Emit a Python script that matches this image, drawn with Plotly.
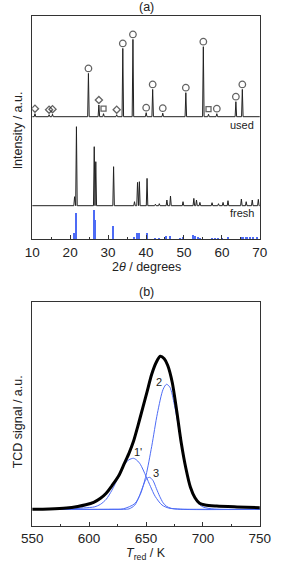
import plotly.graph_objects as go

# ---------------- Panel (a): XRD ----------------
used_pos = [10.73, 14.45, 15.35, 24.82, 27.57, 28.8, 32.27, 33.88, 36.55, 40.04,
            41.75, 44.41, 50.49, 55.1, 56.47, 58.66, 63.68, 65.38]
used_int = [3, 2, 2.5, 43.3, 11.7, 3, 2, 68.3, 77.3, 4,
            27.3, 3.5, 24, 70, 2.5, 3, 15, 27.3]
used_mark = ["diamond", "diamond", "diamond", "circle", "diamond", "square", "diamond",
             "circle", "circle", "circle", "circle", "circle", "circle", "circle",
             "square", "circle", "circle", "circle"]
used_offset = 122.6

fresh_pos = [21.17, 21.66, 26.35, 26.76, 31.45, 36.96, 37.76, 38.25, 40.27, 42.47,
             43.5, 45.5, 46.45, 49.75, 52.6, 53.3, 54.2, 57.4, 59.1, 60.3,
             61.6, 65.13, 66.4, 68.0, 69.6]
fresh_int = [9, 79, 59, 44, 39, 4, 23.3, 24, 27.3, 1.5,
             2, 5.7, 9.7, 4, 7.3, 5.7, 3.3, 3, 2, 3.3,
             5, 6.7, 4, 5.7, 6.3]
fresh_offset = 33.6

ref_pos = [21.17, 21.66, 26.35, 26.76, 31.45, 36.96, 37.76, 38.25, 40.27, 42.47,
           43.5, 45.5, 46.45, 49.1, 49.75, 52.6, 53.0, 53.8, 54.45, 57.4,
           58.26, 59.1, 60.1, 61.6, 65.13, 65.7, 66.35, 66.8, 67.6, 68.4, 69.3]
ref_int = [6, 26.6, 29.3, 19.3, 13.3, 2, 6, 6, 6, 1.7,
           1.7, 3.3, 3.6, 1.5, 2, 4.3, 3, 2, 1.7, 1.5,
           1.5, 1.5, 1.5, 2, 2.5, 2, 2, 2.3, 2, 2, 2.3]

# ---------------- Panel (b): TPR ----------------
tpr_T = [550, 565, 580, 590, 597, 604, 610, 615, 620, 626, 631, 635, 639, 643, 647,
         651, 655, 659, 662.5, 666, 669, 673, 677, 681, 685, 689, 693, 697, 702,
         712, 730, 750]
tpr_sig = [0, 0.3, 1.2, 2.8, 4.5, 7, 11, 16, 23.5, 33.5, 46, 56, 68, 84, 101,
           118, 135, 147, 153, 150.5, 144, 127, 98, 66, 41, 22, 11.5, 6, 4.3,
           3.3, 2.4, 1.6]

p1_T = [560, 585, 595, 605, 610, 615, 620, 626, 631, 635, 639, 642, 645, 650,
        654, 658, 664, 670, 680, 700, 750]
p1_sig = [0, 0.5, 1.3, 2.5, 5, 10, 19, 33, 45, 49.5, 51, 49, 45, 33,
          22.6, 13, 4.3, 1.2, 0.2, 0, 0]

p2_T = [560, 620, 630, 640, 645, 650, 655, 660, 665, 668, 671, 675, 680, 685,
        690, 695, 700, 710, 750]
p2_sig = [0, 0.1, 0.5, 5.6, 15, 34, 63, 96, 120, 125, 122, 104, 72.5, 40,
          19, 7, 2.4, 0.2, 0]

p3_T = [560, 630, 635, 640, 644, 647, 650, 653, 656, 659, 662, 665, 668, 672,
        680, 750]
p3_sig = [0, 0, 0.4, 4, 13, 22, 30, 32, 29, 21, 13, 6.5, 3, 1, 0, 0]

peak_labels = ["1'", "2", "3"]
label_T = [643, 661.5, 658.5]
label_sig = [57, 127, 36]

BLUE = "#4d6bf5"
FONT = "Liberation Sans, Arial, sans-serif"
INK = "#222222"
MARK_SIZE = {"circle": 6.5, "diamond": 5.5, "square": 5}


def stick_pattern(pos, inten, base, hw=0.2, xmin=10, xmax=70):
    xs, ys = [xmin], [base]
    for p, h in sorted(zip(pos, inten)):
        xs += [p - hw, p, p + hw]
        ys += [base, base + h, base]
    xs.append(xmax)
    ys.append(base)
    return xs, ys


fig = go.Figure()

ux, uy = stick_pattern(used_pos, used_int, used_offset)
fig.add_trace(go.Scatter(x=ux, y=uy, mode="lines", line=dict(color=INK, width=1),
                         xaxis="x", yaxis="y", showlegend=False))
fx, fy = stick_pattern(fresh_pos, fresh_int, fresh_offset)
fig.add_trace(go.Scatter(x=fx, y=fy, mode="lines", line=dict(color=INK, width=1),
                         xaxis="x", yaxis="y", showlegend=False))
fig.add_trace(go.Bar(x=ref_pos, y=ref_int, width=0.38, marker=dict(color=BLUE, line=dict(width=0)),
                     xaxis="x", yaxis="y", showlegend=False))

MARK_GAP = 5
fig.add_trace(go.Scatter(
    x=used_pos, y=[used_offset + h + MARK_GAP for h in used_int], mode="markers",
    marker=dict(symbol=[m + "-open" for m in used_mark], size=[MARK_SIZE[m] for m in used_mark],
                color=INK, line=dict(width=1.3, color=INK)),
    xaxis="x", yaxis="y", showlegend=False))

# Panel b
for T, s in [(p1_T, p1_sig), (p2_T, p2_sig), (p3_T, p3_sig)]:
    fig.add_trace(go.Scatter(x=T, y=s, mode="lines", line=dict(color=BLUE, width=1, shape="spline", smoothing=0.8),
                             xaxis="x2", yaxis="y2", showlegend=False))
fig.add_trace(go.Scatter(x=tpr_T, y=tpr_sig, mode="lines",
                         line=dict(color="black", width=3, shape="spline", smoothing=0.8),
                         xaxis="x2", yaxis="y2", showlegend=False))

xdom = [23 / 281, 270 / 281]
axis_common = dict(showline=True, linecolor="#333333", linewidth=1, mirror=True,
                   showgrid=False, zeroline=False)
TICKFONT = dict(size=13.5, family=FONT, color=INK)
fig.update_layout(
    width=281, height=565, autosize=False,
    margin=dict(l=0, r=0, t=0, b=0),
    paper_bgcolor="white", plot_bgcolor="white",
    font=dict(family=FONT, size=12, color=INK),
    bargap=0,
    xaxis=dict(domain=xdom, anchor="y", range=[10, 70], tickvals=[10, 20, 30, 40, 50, 60, 70],
               ticks="inside", ticklen=4, tickcolor="#333333",
               minor=dict(ticks="inside", ticklen=2, dtick=5, tickcolor="#333333"),
               tickfont=TICKFONT, **axis_common),
    yaxis=dict(domain=[1 - 239.3 / 565, 1 - 16 / 565], anchor="x", range=[0, 223.3],
               showticklabels=False, ticks="", **axis_common),
    xaxis2=dict(domain=xdom, anchor="y2", range=[550, 750], tickvals=[550, 600, 650, 700, 750],
                ticks="inside", ticklen=4, tickcolor="#333333",
                minor=dict(ticks="inside", ticklen=2, dtick=25, tickcolor="#333333"),
                tickfont=TICKFONT, **axis_common),
    yaxis2=dict(domain=[1 - 526 / 565, 1 - 302 / 565], anchor="x2", range=[-16.7, 207.3],
                showticklabels=False, ticks="", **axis_common),
)

ann = []
ann.append(dict(text="(a)", x=146.5 / 281, y=1 - 7 / 565, xref="paper", yref="paper",
                showarrow=False, font=dict(size=12.5), xanchor="center", yanchor="middle"))
ann.append(dict(text="(b)", x=146.5 / 281, y=1 - 292 / 565, xref="paper", yref="paper",
                showarrow=False, font=dict(size=12.5), xanchor="center", yanchor="middle"))
ann.append(dict(text="2<i>θ</i> / degrees", x=146.5 / 281, y=1 - 267 / 565, xref="paper", yref="paper",
                showarrow=False, font=dict(size=12.5), xanchor="center", yanchor="middle"))
ann.append(dict(text="<i>T</i><sub>red</sub> / K", x=146.5 / 281, y=1 / 565, xref="paper", yref="paper",
                showarrow=False, font=dict(size=12.5), xanchor="center", yanchor="bottom"))
ann.append(dict(text="Intensity / a.u.", x=8 / 281, y=1 - 130 / 565, xref="paper", yref="paper",
                showarrow=False, textangle=-90, font=dict(size=12.5), xanchor="center", yanchor="middle"))
ann.append(dict(text="TCD signal / a.u.", x=8 / 281, y=1 - 422 / 565, xref="paper", yref="paper",
                showarrow=False, textangle=-90, font=dict(size=12.5), xanchor="center", yanchor="middle"))
ann.append(dict(text="used", x=69.0, y=114.3, xref="x", yref="y", showarrow=False,
                font=dict(size=11), xanchor="right", yanchor="middle"))
ann.append(dict(text="fresh", x=69.0, y=26.3, xref="x", yref="y", showarrow=False,
                font=dict(size=11), xanchor="right", yanchor="middle"))
for t, xv, yv in zip(peak_labels, label_T, label_sig):
    ann.append(dict(text=t, x=xv, y=yv, xref="x2", yref="y2", showarrow=False,
                    font=dict(size=11), xanchor="center", yanchor="middle"))
fig.update_layout(annotations=ann)

fig.write_html(
    "out.html",
    config={"displayModeBar": False},
    post_script="document.body.style.margin='0';document.body.style.padding='0';"
                "document.body.style.overflow='hidden';",
)
